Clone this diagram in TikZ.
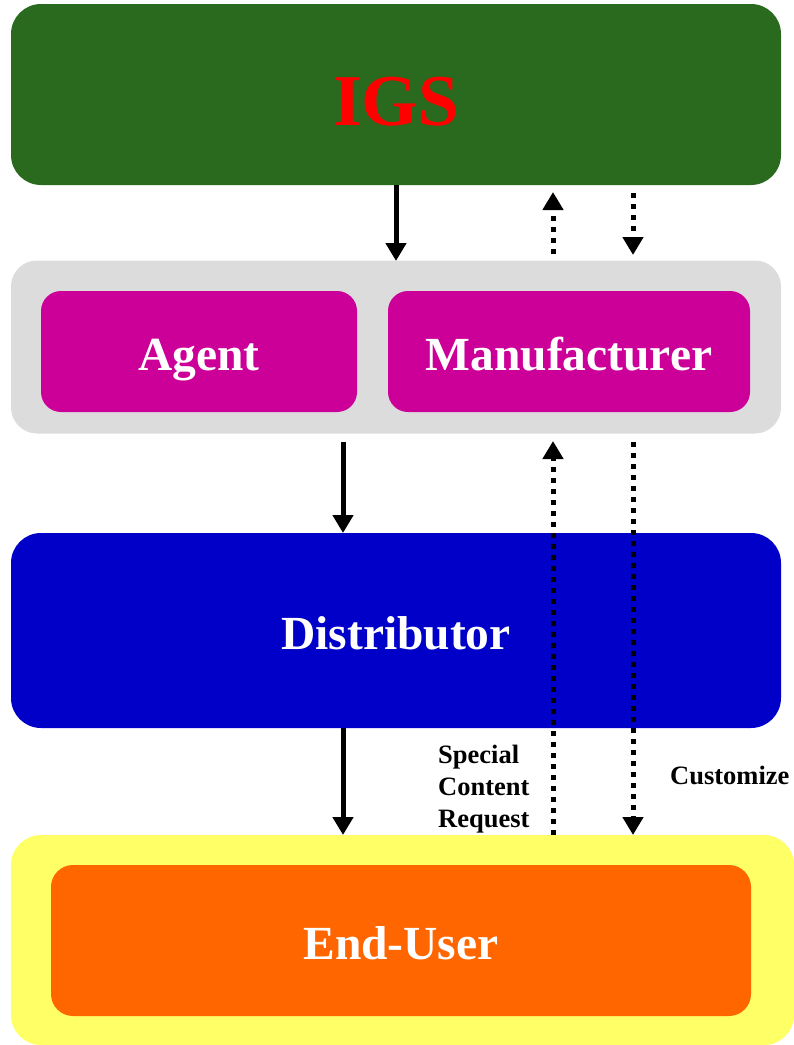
\documentclass[tikz,border=0pt]{standalone}
\usepackage{fontspec}
\setmainfont{Liberation Serif}
\usetikzlibrary{arrows.meta}
\definecolor{igsgreen}{HTML}{2A6A1F}
\definecolor{graybg}{HTML}{DCDCDC}
\definecolor{magbox}{HTML}{CC0099}
\definecolor{bluebox}{HTML}{0000C8}
\definecolor{yellowbg}{HTML}{FFFF66}
\definecolor{orangebox}{HTML}{FF6600}
\begin{document}
\begin{tikzpicture}[x=1pt,y=-1pt,
  box/.style={rounded corners=#1, inner sep=0pt, draw=none},
  boxtext/.style={font=\fontsize{47.5}{50}\selectfont\bfseries, text=white, text height=45pt, text depth=8pt},
  solidarrow/.style={line width=5pt, -{Triangle[length=18pt,width=20pt]}},
  dotarrow/.style={line width=5pt, dash pattern=on 5pt off 6pt, -{Triangle[length=18pt,width=20pt]}},
  lbl/.style={font=\fontsize{26.5}{32}\selectfont\bfseries, align=left, inner sep=0pt}]
\useasboundingbox (0,0) rectangle (794,1045);
% boxes
\node[box=30pt, fill=igsgreen, minimum width=770pt, minimum height=181pt,
  text height=61pt, text depth=0pt] (igs) at (396,94.5)
  {\fontsize{73}{76}\selectfont\bfseries\color{red}IGS};
\node[box=26pt, fill=graybg, minimum width=770pt, minimum height=173pt] (gray) at (396,347) {};
\node[box=20pt, fill=magbox, minimum width=316pt, minimum height=121pt, boxtext] (agent) at (199,351.5) {Agent};
\node[box=20pt, fill=magbox, minimum width=362pt, minimum height=121pt, boxtext] (manu) at (569,351.5) {Manufacturer};
\node[box=30pt, fill=bluebox, minimum width=770pt, minimum height=195pt, boxtext] (dist) at (396,630.5) {Distributor};
\node[box=30pt, fill=yellowbg, minimum width=783pt, minimum height=210pt] (yel) at (402.5,940) {};
\node[box=22pt, fill=orangebox, minimum width=700pt, minimum height=151pt, boxtext] (enduser) at (401,940.5) {End-User};
% coordinates
\coordinate (a1s) at (396,185);
\coordinate (a1e) at (396,261);
\coordinate (u1s) at (553,254);
\coordinate (u1e) at (553,192);
\coordinate (d1s) at (633,193);
\coordinate (d1e) at (633,255);
\coordinate (a2s) at (343,442);
\coordinate (a2e) at (343,533);
\coordinate (u2s) at (553,835);
\coordinate (u2e) at (553,441);
\coordinate (d2s) at (633,442);
\coordinate (d2e) at (633,835);
\coordinate (a3s) at (343,728);
\coordinate (a3e) at (343,835);
% arrows
\draw[solidarrow] (a1s) -- (a1e);
\draw[dotarrow] (u1s) -- (u1e);
\draw[dotarrow] (d1s) -- (d1e);
\draw[solidarrow] (a2s) -- (a2e);
\draw[dotarrow] (u2s) -- (u2e);
\draw[dotarrow] (d2s) -- (d2e);
\draw[solidarrow] (a3s) -- (a3e);
% labels
\node[lbl, anchor=north west] (req) at (438,745) {Special\\Content\\Request};
\node[lbl, anchor=west] (cust) at (670,775) {Customize};
\end{tikzpicture}
\end{document}
